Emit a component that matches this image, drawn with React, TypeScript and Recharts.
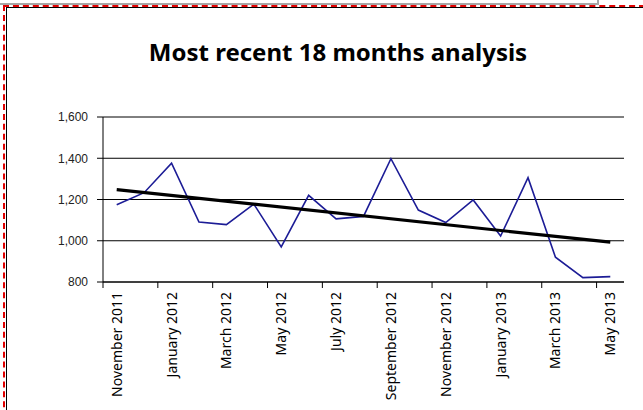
import { ComposedChart, Line, XAxis, YAxis, CartesianGrid } from "recharts";

const months = [
  "November 2011", "December 2011", "January 2012", "February 2012", "March 2012",
  "April 2012", "May 2012", "June 2012", "July 2012", "August 2012",
  "September 2012", "October 2012", "November 2012", "December 2012", "January 2013",
  "February 2013", "March 2013", "April 2013", "May 2013",
];

const values = [
  1175, 1233, 1376, 1091, 1078, 1178, 970, 1220, 1106, 1118,
  1398, 1149, 1088, 1198, 1023, 1306, 920, 821, 826,
];

// trend line: only the two end values
const trend = [
  1248, null, null, null, null, null, null, null, null, null,
  null, null, null, null, null, null, null, null, 993,
];

const yTicks = [800, 1000, 1200, 1400, 1600];

const data = months.map((m, i) => ({ month: m, value: values[i], trend: trend[i] }));

function MonthTick(props: any) {
  const { x, y, payload } = props;
  const off = payload.offset ?? 13.7;
  return (
    <g>
      <line x1={x - off} y1={y} x2={x - off} y2={y + 6} stroke="#000" />
      <g transform={`translate(${x},${y + 10}) rotate(-90)`}>
        <text x={0} y={0} dy="0.36em" textAnchor="end" fontSize={14} fill="#000"
          fontFamily="'Noto Sans', sans-serif">
          {payload.value}
        </text>
      </g>
    </g>
  );
}

export default function App() {
  return (
    <div style={{ position: "absolute", left: 0, top: 0, width: 643, height: 410, background: "#fff", overflow: "hidden" }}>
      <div style={{ position: "absolute", left: 0, top: 3, width: 598, height: 2, background: "#a6a6a6" }} />
      <div style={{ position: "absolute", left: 597, top: 0, width: 2, height: 5, background: "#a6a6a6" }} />
      <div style={{ position: "absolute", left: 3, top: 5, width: 650, height: 420, borderLeft: "2px dashed #e00000", borderTop: "2px dashed #e00000" }} />
      <div style={{ position: "absolute", left: 6, top: 7, width: 650, height: 420, borderLeft: "1px solid #000", borderTop: "1px solid #000" }} />
      <div style={{ position: "absolute", left: 0, top: 35, width: 676, textAlign: "center", fontFamily: "'Noto Sans', sans-serif", fontWeight: 700, fontSize: 24, color: "#000" }}>
        Most recent 18 months analysis
      </div>
      <div style={{ position: "absolute", left: 0, top: 0 }}>
        <ComposedChart width={643} height={410} data={data} margin={{ top: 117, right: 19, left: 0, bottom: 8 }}>
          <CartesianGrid horizontal vertical={false} stroke="#000" />
          <XAxis
            dataKey="month"
            scale="band"
            interval={1}
            height={120}
            tickSize={0}
            tickMargin={0}
            tick={<MonthTick />}
            axisLine={{ stroke: "#000" }}
          />
          <XAxis xAxisId="top" dataKey="month" orientation="top" height={0} tick={false} tickLine={false} axisLine={{ stroke: "#8c8c8c" }} />
          <YAxis
            domain={[800, 1600]}
            ticks={yTicks}
            width={103}
            tickSize={6}
            tickMargin={9}
            tickFormatter={(v: number) => v.toLocaleString("en-US")}
            tick={{ fontSize: 12, fill: "#222", fontFamily: "'Liberation Sans', Arial, sans-serif" }}
            axisLine={{ stroke: "#000" }}
            tickLine={{ stroke: "#000" }}
          />
          <YAxis yAxisId="right" orientation="right" width={0} tick={false} tickLine={false} axisLine={{ stroke: "#8c8c8c" }} />
          <Line dataKey="value" stroke="#1c1c96" strokeWidth={1.6} dot={false} isAnimationActive={false} />
          <Line dataKey="trend" stroke="#000" strokeWidth={3.2} dot={false} connectNulls isAnimationActive={false} />
        </ComposedChart>
      </div>
    </div>
  );
}
